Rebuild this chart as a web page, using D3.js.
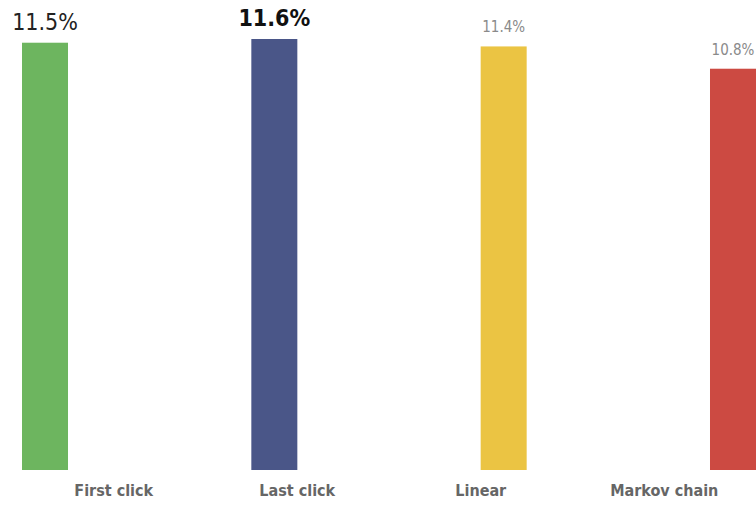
<!DOCTYPE html>
<html>
<head>
<meta charset="utf-8">
<script src="https://cdn.jsdelivr.net/npm/d3@7"></script>
<style>
  body { margin: 0; background: #fff; }
  svg { display: block; }
</style>
</head>
<body>
<div id="chart"></div>
<script>
// Data
const models = ["First click", "Last click", "Linear", "Markov chain"];
const rates = [11.5, 11.6, 11.4, 10.8];
const colors = ["#6db55f", "#4a5688", "#ebc443", "#cc4a42"];
// label styles per bar (size, weight, colour)
const labelSize = [23, 23, 15, 15];
const labelWeight = ["normal", "bold", "normal", "normal"];
const labelColor = ["#222", "#111", "#8a8a8a", "#8a8a8a"];

const width = 756, height = 506;
const left = 22, right = 756, bottom = 470;

const svg = d3.select("#chart").append("svg")
    .attr("width", width)
    .attr("height", height);

// Bars scale
const x = d3.scaleBand()
    .domain(models)
    .range([left, right])
    .paddingInner(0.7994)
    .paddingOuter(0)
    .align(0);

// Category labels scale
const xLab = d3.scaleBand()
    .domain(models)
    .range([left, right]);

const y = d3.scaleLinear()
    .domain([0, d3.max(rates)])
    .range([bottom, 39]);

const font = "'DejaVu Sans', sans-serif";

// Bars
svg.selectAll("rect.bar")
    .data(models)
    .enter()
    .append("rect")
    .attr("class", "bar")
    .attr("x", d => x(d))
    .attr("y", (d, i) => y(rates[i]))
    .attr("width", x.bandwidth())
    .attr("height", (d, i) => bottom - y(rates[i]))
    .attr("fill", (d, i) => colors[i]);

// Value labels
svg.selectAll("text.value")
    .data(models)
    .enter()
    .append("text")
    .attr("class", "value")
    .attr("x", d => x(d) + x.bandwidth() / 2)
    .attr("y", (d, i) => y(rates[i]) - (labelSize[i] > 16 ? 13 : 14))
    .attr("text-anchor", "middle")
    .style("font-family", font)
    .style("font-stretch", "condensed")
    .style("font-size", (d, i) => labelSize[i] + "px")
    .style("font-weight", (d, i) => labelWeight[i])
    .style("fill", (d, i) => labelColor[i])
    .text((d, i) => rates[i].toFixed(1) + "%");

// Category labels
svg.selectAll("text.cat")
    .data(models)
    .enter()
    .append("text")
    .attr("class", "cat")
    .attr("x", d => xLab(d) + xLab.bandwidth() / 2)
    .attr("y", 496)
    .attr("text-anchor", "middle")
    .style("font-family", font)
    .style("font-stretch", "condensed")
    .style("font-size", "16px")
    .style("font-weight", "bold")
    .style("fill", "#666")
    .text(d => d);
</script>
</body>
</html>
